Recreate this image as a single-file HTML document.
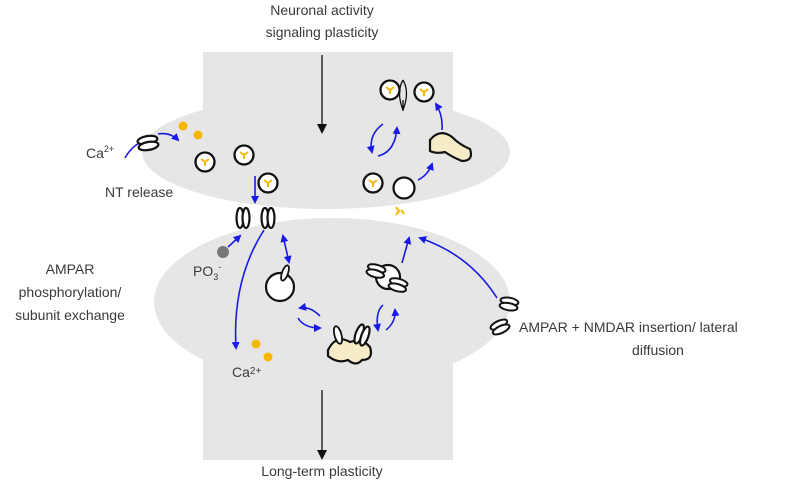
<!DOCTYPE html>
<html><head><meta charset="utf-8"><style>
html,body{margin:0;padding:0;background:#fff}
svg{display:block}
text{font-family:"Liberation Sans",sans-serif;fill:#3a3a3a}
</style></head><body>
<svg width="797" height="482" viewBox="0 0 797 482" xmlns="http://www.w3.org/2000/svg">
<defs>
<marker id="b" markerWidth="8" markerHeight="8" refX="6" refY="4" orient="auto" markerUnits="userSpaceOnUse"><path d="M0,0 L8,4 L0,8 z" fill="#1a1ae6"/></marker>
<marker id="bs" markerWidth="8" markerHeight="8" refX="2" refY="4" orient="auto" markerUnits="userSpaceOnUse"><path d="M8,0 L0,4 L8,8 z" fill="#1a1ae6"/></marker>
<marker id="k" markerWidth="10" markerHeight="10" refX="8" refY="5" orient="auto" markerUnits="userSpaceOnUse"><path d="M0,0 L10,5 L0,10 z" fill="#111"/></marker>
<g id="ves"><circle r="9.5" fill="#fff" stroke="#111" stroke-width="2.3"/><path d="M0,0 L-4,-3 M0,0 L4,-3 M0,0 L0,4" stroke="#f5b800" stroke-width="2" fill="none"/></g>
<g id="disc"><ellipse cx="0" cy="-3" rx="10" ry="4" fill="#fff" stroke="#111" stroke-width="2.2"/><ellipse cx="0" cy="3" rx="10" ry="4" fill="#fff" stroke="#111" stroke-width="2.2"/></g>
<g id="vr"><ellipse cx="-3" cy="0" rx="3.5" ry="10" fill="#fff" stroke="#111" stroke-width="2.2"/><ellipse cx="3" cy="0" rx="3.5" ry="10" fill="#fff" stroke="#111" stroke-width="2.2"/></g>
</defs>
<g fill="#e6e6e6">
<rect x="203" y="52" width="250" height="110"/>
<ellipse cx="326" cy="152" rx="184" ry="57"/>
<ellipse cx="332" cy="302" rx="178" ry="84"/>
<rect x="203" y="300" width="250" height="160"/>
</g>
<text x="322" y="15" font-size="14" text-anchor="middle">Neuronal activity</text>
<text x="322" y="37" font-size="14" text-anchor="middle">signaling plasticity</text>
<text x="322" y="476" font-size="14" text-anchor="middle">Long-term plasticity</text>
<text x="86" y="158" font-size="14">Ca<tspan font-size="9" dy="-6">2+</tspan></text>
<text x="105" y="197" font-size="14">NT release</text>
<text x="70" y="274" font-size="14" text-anchor="middle">AMPAR</text>
<text x="70" y="297" font-size="14" text-anchor="middle">phosphorylation/</text>
<text x="70" y="320" font-size="14" text-anchor="middle">subunit exchange</text>
<text x="193" y="276" font-size="14" fill="#555">PO<tspan font-size="9" dy="4">3</tspan><tspan font-size="9" dy="-10">-</tspan></text>
<text x="232" y="377" font-size="14" fill="#555">Ca<tspan font-size="10" dy="-3">2+</tspan></text>
<text x="519" y="332" font-size="14">AMPAR + NMDAR insertion/ lateral</text>
<text x="658" y="355" font-size="14" text-anchor="middle">diffusion</text>
<line x1="322" y1="55" x2="322" y2="132" stroke="#111" stroke-width="1.3" marker-end="url(#k)"/>
<line x1="322" y1="390" x2="322" y2="458" stroke="#111" stroke-width="1.3" marker-end="url(#k)"/>
<g stroke="#1a1ae6" stroke-width="1.6" fill="none">
<path d="M125,158 Q135,140 155,138" /><path d="M158,134 Q170,132 178,140" marker-end="url(#b)"/>
<path d="M255,176 L255,202" marker-end="url(#b)"/>
<path d="M228,247 L240,236" marker-end="url(#b)"/>
<path d="M264,230 Q232,280 236,348" marker-end="url(#b)"/>
<path d="M283,236 L289,262" marker-start="url(#bs)" marker-end="url(#b)"/>
<path d="M320,316 Q310,306 300,308" marker-end="url(#b)"/>
<path d="M298,318 Q304,328 320,328" marker-end="url(#b)"/>
<path d="M383,305 Q375,312 378,330" marker-end="url(#b)"/>
<path d="M386,330 Q396,322 395,310" marker-end="url(#b)"/>
<path d="M402,263 L409,238" marker-end="url(#b)"/>
<path d="M497,298 Q470,255 420,238" marker-end="url(#b)"/>
<path d="M383,124 Q368,135 372,152" marker-end="url(#b)"/>
<path d="M378,156 Q395,152 397,128" marker-end="url(#b)"/>
<path d="M418,180 Q428,175 432,164" marker-end="url(#b)"/>
<path d="M442,130 Q443,115 436,104" marker-end="url(#b)"/>
</g>
<g fill="#f5b800"><circle cx="183" cy="126" r="4.5"/><circle cx="198" cy="135" r="4.5"/><circle cx="256" cy="344" r="4.5"/><circle cx="268" cy="357" r="4.5"/></g>
<circle cx="223" cy="252" r="6" fill="#777"/>
<g transform="translate(148,143) rotate(-10)"><use href="#disc"/></g>
<g transform="translate(243,218)"><use href="#vr"/></g>
<g transform="translate(268,218)"><use href="#vr"/></g>
<use href="#ves" x="205" y="162"/>
<use href="#ves" x="244" y="155"/>
<use href="#ves" x="268" y="183"/>
<use href="#ves" x="390" y="90"/>
<use href="#ves" x="424" y="92"/>
<use href="#ves" x="373" y="183"/>
<path d="M403,80 Q396,92 403,110 M403,80 Q410,92 403,110 M403,100 L403,111" stroke="#111" stroke-width="1.3" fill="none"/>
<circle cx="404" cy="188" r="10.5" fill="#fff" stroke="#111" stroke-width="2.2"/>
<path d="M396,207 L399,211 L396,215 M401,210 L404,214" stroke="#f5b800" stroke-width="2" fill="none"/>
<path d="M430,140 Q440,128 452,137 Q460,145 470,149 Q474,161 462,161 Q452,157 445,152 Q436,154 430,151 z" fill="#f7ecc8" stroke="#111" stroke-width="2.2"/>
<circle cx="280" cy="287" r="14" fill="#fff" stroke="#111" stroke-width="2.2"/>
<ellipse cx="285" cy="273" rx="3" ry="8" transform="rotate(20 285 273)" fill="#fff" stroke="#111" stroke-width="1.8"/>
<path d="M328,350 Q336,334 350,342 Q362,338 370,347 Q374,360 362,360 Q356,367 348,360 Q338,364 328,356 z" fill="#f7ecc8" stroke="#111" stroke-width="2.2"/>
<ellipse cx="338" cy="335" rx="3.5" ry="9" transform="rotate(-15 338 335)" fill="#fff" stroke="#111" stroke-width="1.8"/>
<g transform="translate(362,335) rotate(20)"><use href="#vr"/></g>
<circle cx="388" cy="277" r="12" fill="#fff" stroke="#111" stroke-width="2.2"/>
<g transform="translate(376,271) rotate(15) scale(0.9)"><use href="#disc"/></g>
<g transform="translate(398,285) rotate(15) scale(0.9)"><use href="#disc"/></g>
<g transform="translate(509,304) rotate(10) scale(0.9)"><use href="#disc"/></g>
<g transform="translate(500,327) rotate(-25) scale(0.9)"><use href="#disc"/></g>
</svg>
</body></html>
